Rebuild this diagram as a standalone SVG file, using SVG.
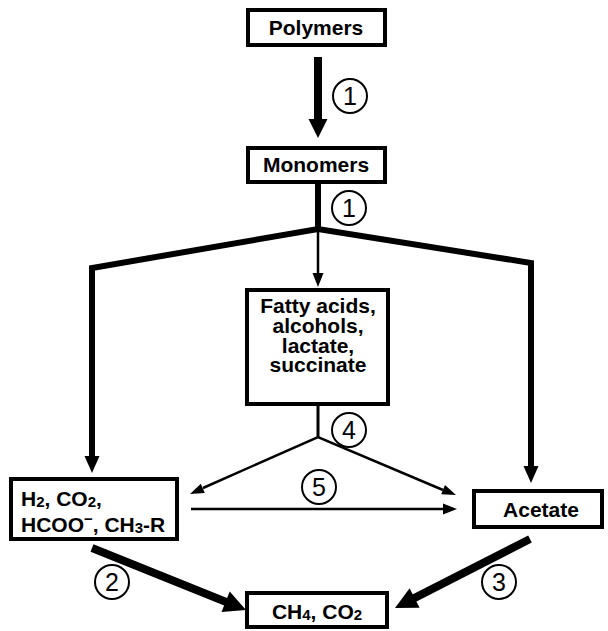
<svg xmlns="http://www.w3.org/2000/svg" width="608" height="631" viewBox="0 0 608 631">
<style>
.box{fill:#fff;stroke:#000;stroke-width:4}
.lbl{font-family:"Liberation Sans",Arial,sans-serif;font-weight:bold;font-size:21px;fill:#000}
.sub{font-size:15px}
.num{font-family:"Liberation Sans",Arial,sans-serif;font-size:25px;fill:#000;text-anchor:middle}
.circ{fill:#fff;stroke:#000;stroke-width:2}
.thick{fill:none;stroke:#000;stroke-width:6;stroke-linejoin:miter}
.thin{fill:none;stroke:#000;stroke-width:2.5}
.head{fill:#000;stroke:none}
</style>
<rect width="608" height="631" fill="#fff"/>
<g id="connectors">
  <line x1="318" y1="57" x2="318" y2="122" stroke="#000" stroke-width="8"/>
  <polygon class="head" points="308.5,119 327.5,119 318,138"/>
  <line x1="318" y1="183" x2="318" y2="230" stroke="#000" stroke-width="6"/>
  <polyline class="thick" points="92,458 92,268 318,229 531,263 531,468"/>
  <polygon class="head" points="84.5,456 99.5,456 92,473"/>
  <polygon class="head" points="523.5,466 538.5,466 531,483"/>
  <line class="thin" x1="318" y1="229" x2="318" y2="276"/>
  <polygon class="head" points="312.5,273 323.5,273 318,287"/>
  <line x1="318" y1="405" x2="318" y2="438" stroke="#000" stroke-width="3"/>
  <polyline class="thin" points="203,488 318,437 443,490"/>
  <polygon class="head" points="190,494 204.8,492.9 200.8,483.7"/>
  <polygon class="head" points="456,495 441.2,494.2 445,485"/>
  <line class="thin" x1="191" y1="509" x2="445" y2="509"/>
  <polygon class="head" points="443,503.5 443,514.5 457,509"/>
  <line x1="92" y1="548" x2="227.5" y2="602.5" stroke="#000" stroke-width="8"/>
  <polygon class="head" points="246,610 221.5,612 229.7,591.6"/>
  <line x1="530" y1="539" x2="412.8" y2="598.9" stroke="#000" stroke-width="8"/>
  <polygon class="head" points="395,608 419.6,607.8 409.6,588.2"/>
</g>
<g id="step-labels">
  <g id="s1a"><circle class="circ" cx="350" cy="96" r="17"/><text class="num" x="350" y="105">1</text></g>
  <g id="s1b"><circle class="circ" cx="349" cy="208" r="17"/><text class="num" x="349" y="217">1</text></g>
  <g id="s4"><circle class="circ" cx="349" cy="430" r="17"/><text class="num" x="349" y="439">4</text></g>
  <g id="s5"><circle class="circ" cx="319" cy="487" r="17"/><text class="num" x="319" y="496">5</text></g>
  <g id="s2"><circle class="circ" cx="112" cy="582" r="17"/><text class="num" x="112" y="591">2</text></g>
  <g id="s3"><circle class="circ" cx="499" cy="582" r="17"/><text class="num" x="499" y="591">3</text></g>
</g>
<g id="polymers">
  <rect class="box" x="248" y="10" width="137" height="35"/>
  <text class="lbl" x="316" y="35" text-anchor="middle">Polymers</text>
</g>
<g id="monomers">
  <rect class="box" x="248" y="148" width="137" height="34"/>
  <text class="lbl" x="316" y="172" text-anchor="middle">Monomers</text>
</g>
<g id="fatty">
  <rect class="box" x="247" y="290" width="141" height="114"/>
  <text class="lbl" x="318" y="313" text-anchor="middle">Fatty acids,</text>
  <text class="lbl" x="318" y="333" text-anchor="middle">alcohols,</text>
  <text class="lbl" x="318" y="353" text-anchor="middle">lactate,</text>
  <text class="lbl" x="318" y="372" text-anchor="middle">succinate</text>
</g>
<g id="h2">
  <rect class="box" x="11" y="479" width="166" height="60"/>
  <text class="lbl" x="21" y="506">H<tspan class="sub" dy="1">2</tspan><tspan dy="-1">, CO</tspan><tspan class="sub" dy="1">2</tspan><tspan dy="-1">,</tspan></text>
  <text class="lbl" x="21" y="532">HCOO<tspan class="sub" dy="-8">−</tspan><tspan dy="8">, CH</tspan><tspan class="sub" dy="1">3</tspan><tspan dy="-1">-R</tspan></text>
</g>
<g id="acetate">
  <rect class="box" x="474" y="491" width="128" height="36"/>
  <text class="lbl" x="541" y="517" text-anchor="middle">Acetate</text>
</g>
<g id="ch4">
  <rect class="box" x="247" y="593" width="140" height="34"/>
  <text class="lbl" x="317" y="619" text-anchor="middle">CH<tspan class="sub" dy="1">4</tspan><tspan dy="-1">, CO</tspan><tspan class="sub" dy="1">2</tspan></text>
</g>
</svg>
